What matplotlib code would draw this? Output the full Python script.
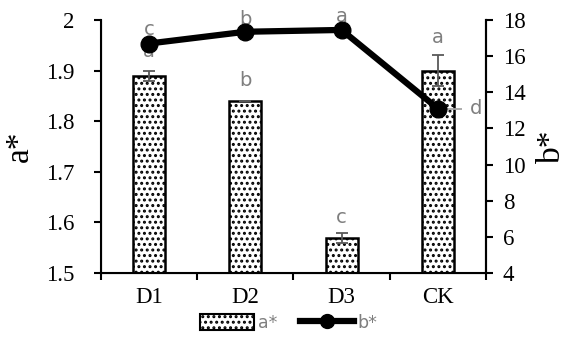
import numpy as np
import matplotlib.pyplot as plt
from matplotlib.lines import Line2D
from matplotlib.patches import Patch

plt.rcParams['hatch.linewidth'] = 1.4

groups = ['D1', 'D2', 'D3', 'CK']
a_star = [1.89, 1.84, 1.57, 1.90]
a_err = [0.01, 0.0, 0.01, 0.03]
b_star = [16.7, 17.35, 17.45, 13.1]
b_xerr = [0.0, 0.0, 0.0, 0.25]
a_letters = ['a', 'b', 'c', 'a']
b_letters = ['c', 'b', 'a', 'd']

SERIF = 'Liberation Serif'
GRAY = '#7f7f7f'

fig = plt.figure(figsize=(5.66, 3.38), dpi=100)
ax = fig.add_axes([0.1784, 0.1923, 0.6803, 0.7485])
x = np.arange(len(groups))

# a* bars with dotted fill
ax.bar(x, [v - 1.5 for v in a_star], bottom=1.5, width=0.33, color='white',
       edgecolor='black', linewidth=1.8, hatch='...', zorder=2)
ax.errorbar(x, a_star, yerr=a_err, fmt='none', ecolor='#595959',
            elinewidth=1.3, capsize=4, capthick=1.3, zorder=3)
ax.set_ylim(1.5, 2.0)
ax.set_xlim(-0.5, 3.5)
ticks_a = np.arange(1.5, 2.01, 0.1).round(1)
ax.set_yticks(ticks_a)
ax.set_yticklabels([f'{v:g}' for v in ticks_a], fontfamily=SERIF, fontsize=16.5)
ax.set_xticks(np.arange(-0.5, 3.6, 1.0))
ax.set_xticklabels([])
ax.set_xticks(x, minor=True)
ax.set_xticklabels(groups, minor=True, fontfamily=SERIF, fontsize=16.5)
ax.tick_params(axis='x', which='minor', length=0, pad=10)
ax.tick_params(axis='x', which='major', direction='out', length=5, width=1.5)
ax.tick_params(axis='y', direction='out', length=5, width=1.5, pad=14)
ax.spines['top'].set_visible(False)
for s in ('left', 'bottom', 'right'):
    ax.spines[s].set_linewidth(1.5)
ax.set_ylabel('a*', fontfamily=SERIF, fontsize=24, labelpad=8)

# b* line on the secondary axis
ax2 = ax.twinx()
ax2.plot(x, b_star, color='black', linewidth=4.5, marker='o', markersize=12,
         zorder=4)
ax2.errorbar(x, b_star, xerr=[[0] * 4, b_xerr], fmt='none', ecolor='#a6a6a6',
             elinewidth=1.3, capsize=0, zorder=3)
ax2.set_ylim(4, 18)
ax2.set_yticks(range(4, 19, 2))
ax2.set_yticklabels([str(v) for v in range(4, 19, 2)], fontfamily=SERIF,
                    fontsize=16.5)
ax2.tick_params(axis='y', direction='out', length=5, width=1.5, pad=7)
ax2.spines['top'].set_visible(False)
ax2.spines['right'].set_linewidth(1.5)
ax2.set_ylabel('b*', fontfamily=SERIF, fontsize=24, labelpad=8)

# significance letters
for xi, t, yy in zip(x, a_letters, [1.937, 1.88, 1.61, 1.966]):
    ax.text(xi, yy, t, color=GRAY, fontsize=14, ha='center', va='center',
            fontfamily='DejaVu Sans')
for xi, t, yy in zip(x[:3], b_letters[:3], [17.5, 18.05, 18.2]):
    ax2.text(xi, yy, t, color=GRAY, fontsize=14, ha='center', va='center',
             fontfamily='DejaVu Sans')
ax2.text(x[3] + 0.4, b_star[3], b_letters[3], color=GRAY, fontsize=14,
         ha='center', va='center', fontfamily='DejaVu Sans')

handles = [Patch(facecolor='white', edgecolor='black', hatch='...',
                 linewidth=1.5),
           Line2D([0], [0], color='black', linewidth=4.5, marker='o',
                  markersize=10)]
leg = fig.legend(handles, ['a*', 'b*'], loc='center', ncol=2,
                 bbox_to_anchor=(0.51, 0.045), frameon=False,
                 prop={'family': 'DejaVu Sans', 'size': 12.5},
                 handlelength=3.1, handleheight=1.1, handletextpad=0.2,
                 columnspacing=1.3)
for t in leg.get_texts():
    t.set_color(GRAY)

fig.savefig('out.png', dpi=100)
